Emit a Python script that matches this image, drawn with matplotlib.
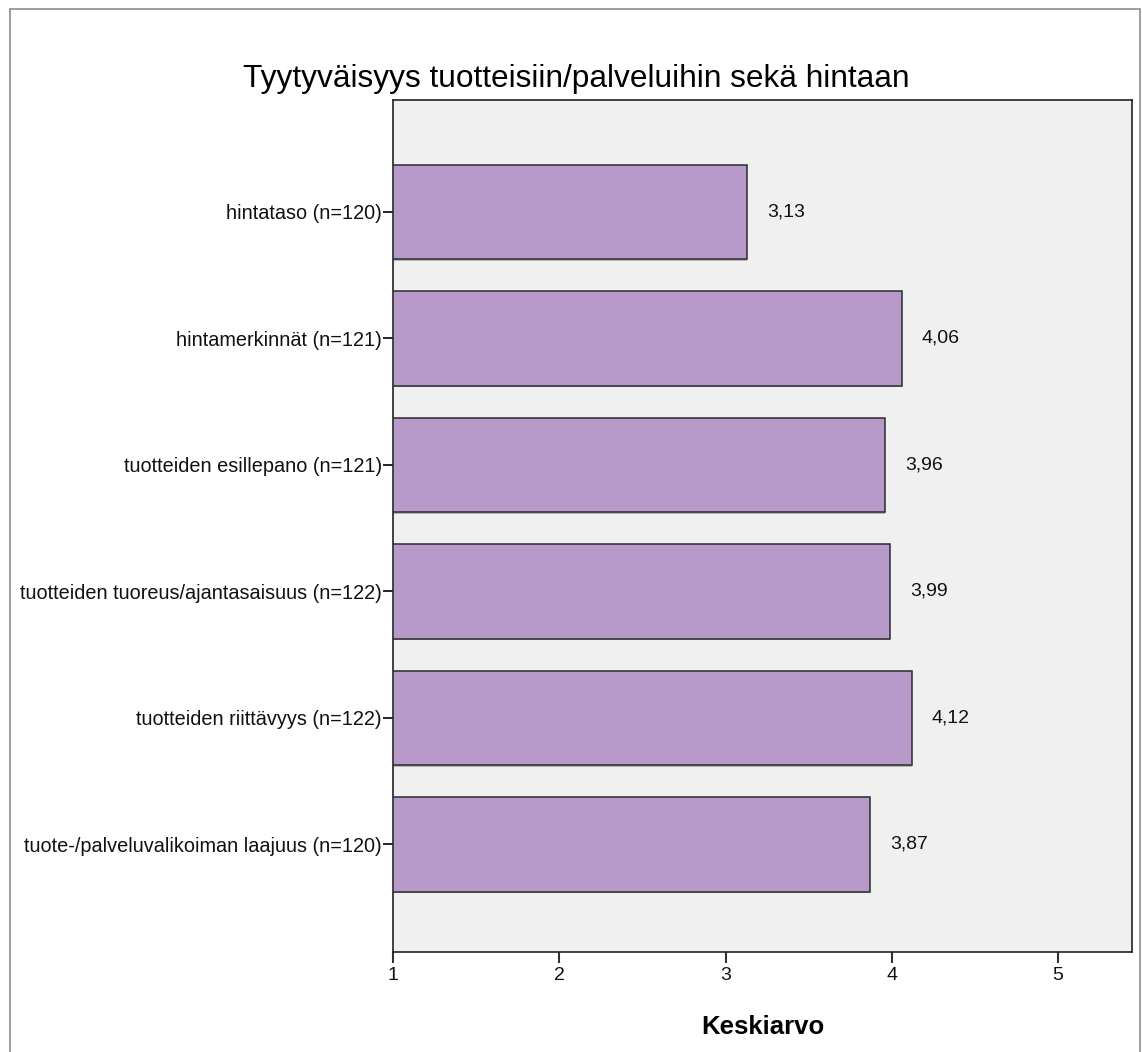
import matplotlib
matplotlib.use("Agg")
import matplotlib.pyplot as plt
from matplotlib.patches import Rectangle

plt.rcParams["font.family"] = ["Liberation Sans", "DejaVu Sans"]

# data
categories = [
    "hintataso (n=120)",
    "hintamerkinnät (n=121)",
    "tuotteiden esillepano (n=121)",
    "tuotteiden tuoreus/ajantasaisuus (n=122)",
    "tuotteiden riittävyys (n=122)",
    "tuote-/palveluvalikoiman laajuus (n=120)",
]
means = [3.13, 4.06, 3.96, 3.99, 4.12, 3.87]
value_labels = ["3,13", "4,06", "3,96", "3,99", "4,12", "3,87"]
xticks = [1, 2, 3, 4, 5]

fig = plt.figure(figsize=(11.42, 10.52), dpi=100)
ax = fig.add_axes([393 / 1142, 1 - 952 / 1052, (1132 - 393) / 1142, (952 - 100) / 1052])
ax.set_facecolor("#f0f0f0")

# outer frame like the SPSS chart editor
fig.patches.append(Rectangle((10 / 1142, -0.01), 1130 / 1142, 1 - 9 / 1052 + 0.01,
                             transform=fig.transFigure, fill=False,
                             edgecolor="#8c8c8c", linewidth=1.2))

ypos = list(range(len(categories)))
left = xticks[0]
widths = [m - left for m in means]

# faint shadow then bars
ax.barh([y + 0.012 for y in ypos], widths, left=left, height=0.75,
        color="#7a7a7a", alpha=0.5, linewidth=0, zorder=2)
ax.barh(ypos, widths, left=left, height=0.75, color="#b89aca",
        edgecolor="#2b2b2b", linewidth=1.1, zorder=3)

for y, m, lab in zip(ypos, means, value_labels):
    ax.text(m + 0.12, y, lab, va="center", ha="left", fontsize=14, color="#111111", zorder=4)

ax.set_xlim(1, 5.445)
ax.set_ylim(5.85, -0.885)
ax.set_yticks(ypos)
ax.set_yticklabels(categories, fontsize=14.3, color="#111111")
ax.set_xticks(xticks)
ax.set_xticklabels([str(t) for t in xticks], fontsize=14, color="#111111")
ax.tick_params(axis="y", length=7, width=1.2, pad=1)
ax.tick_params(axis="x", length=8, width=1.5, pad=3, color="#333333")

for s in ax.spines.values():
    s.set_color("#222222")
    s.set_linewidth(1.2)

ax.set_xlabel("Keskiarvo", fontsize=18.5, fontweight="bold", labelpad=22)
fig.text(0.505, 1 - 79 / 1052, "Tyytyväisyys tuotteisiin/palveluihin sekä hintaan",
         ha="center", va="center", fontsize=22.8)

fig.savefig("out.png", dpi=100)
